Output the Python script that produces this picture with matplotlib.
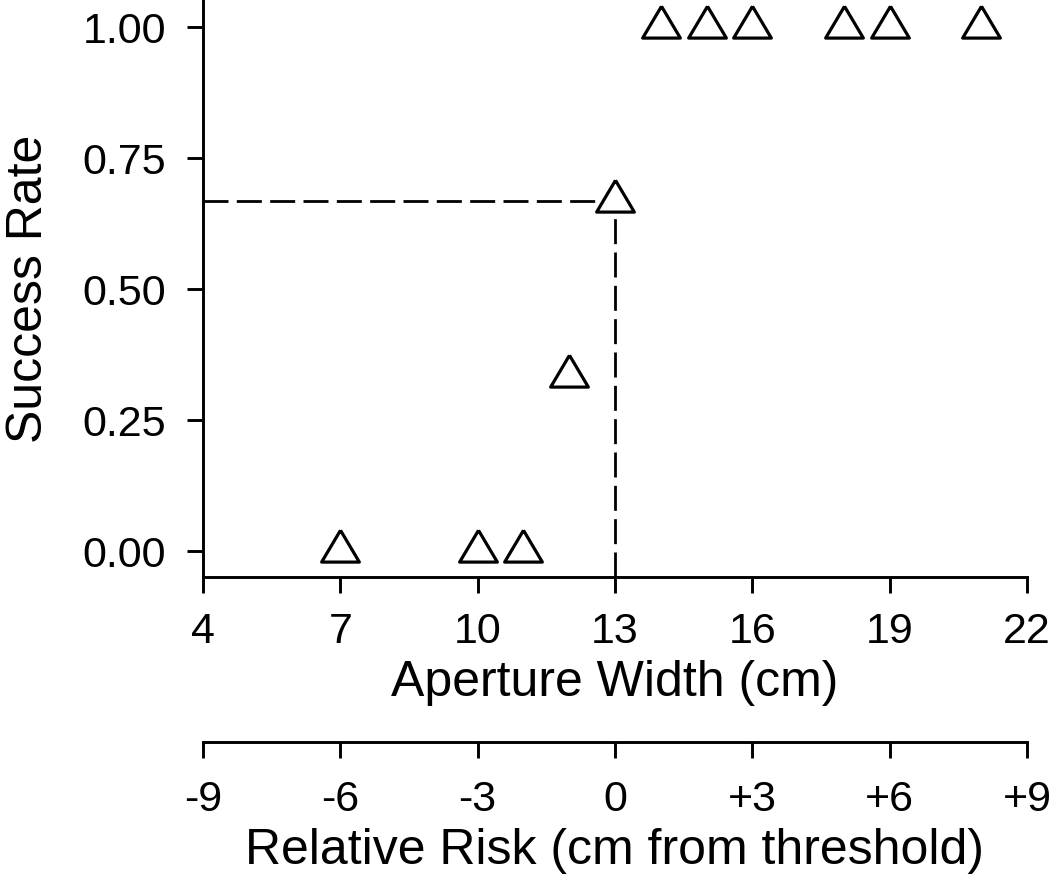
import matplotlib
matplotlib.use("Agg")
import matplotlib.pyplot as plt

plt.rcParams['font.family'] = ['Liberation Sans', 'DejaVu Sans']
plt.rcParams['lines.scale_dashes'] = False

# aperture widths (cm) and success rates
widths = [7, 10, 11, 12, 13, 14, 15, 16, 18, 19, 21]
success = [0.0, 0.0, 0.0, 1/3, 2/3, 1.0, 1.0, 1.0, 1.0, 1.0, 1.0]
threshold_x = 13
threshold_y = 2/3

x_ticks = [4, 7, 10, 13, 16, 19, 22]
y_ticks = [0.0, 0.25, 0.5, 0.75, 1.0]
y_tick_labels = ['0.00', '0.25', '0.50', '0.75', '1.00']
risk_ticks = [-9, -6, -3, 0, 3, 6, 9]
risk_labels = ['-9', '-6', '-3', '0', '+3', '+6', '+9']

fig = plt.figure(figsize=(10.5, 8.78), dpi=100)
ax = fig.add_axes([0.1933, 0.3417, 0.7848, 0.6583])

lw = 2.1
ymin, ymax = -0.05, 1.053
ax.set_xlim(4, 22)
ax.set_ylim(ymin, ymax)

# threshold guide lines
ax.plot([4, threshold_x], [threshold_y, threshold_y], color='black', lw=2.0,
        linestyle=(0, (18, 6)), zorder=2, clip_on=False)
ax.plot([threshold_x, threshold_x], [ymin, threshold_y], color='black', lw=2.0,
        linestyle=(0, (18, 6)), zorder=2, clip_on=False)

# triangle marker with centroid at the data point, a bit wider than tall
tri = [(0, 1), (-0.89, -0.5), (0.89, -0.5), (0, 1)]
ax.plot(widths, success, linestyle='none', marker=tri, markersize=30.5,
        markerfacecolor='white', markeredgecolor='black', markeredgewidth=2.3,
        zorder=3, clip_on=False)

for s in ['top', 'right']:
    ax.spines[s].set_visible(False)
for s in ['left', 'bottom']:
    ax.spines[s].set_linewidth(lw)

ax.set_xticks(x_ticks)
ax.set_yticks(y_ticks)
ax.set_yticklabels(y_tick_labels)
ax.tick_params(axis='both', direction='out', length=11.5, width=lw, labelsize=31)
ax.tick_params(axis='x', pad=13)
ax.tick_params(axis='y', pad=15)
ax.set_xlabel('Aperture Width (cm)', fontsize=36, labelpad=6)
ax.set_ylabel('Success Rate', fontsize=36, labelpad=22)

# second x axis: distance from threshold
sec = ax.secondary_xaxis(-0.2855, functions=(lambda x: x - threshold_x,
                                              lambda x: x + threshold_x))
sec.set_xticks(risk_ticks)
sec.set_xticklabels(risk_labels)
sec.spines['bottom'].set_linewidth(lw)
sec.tick_params(axis='x', direction='out', length=11.5, width=lw, labelsize=31, pad=15)
sec.set_xlabel('Relative Risk (cm from threshold)', fontsize=36, labelpad=6)

fig.savefig('out.png', dpi=100)
